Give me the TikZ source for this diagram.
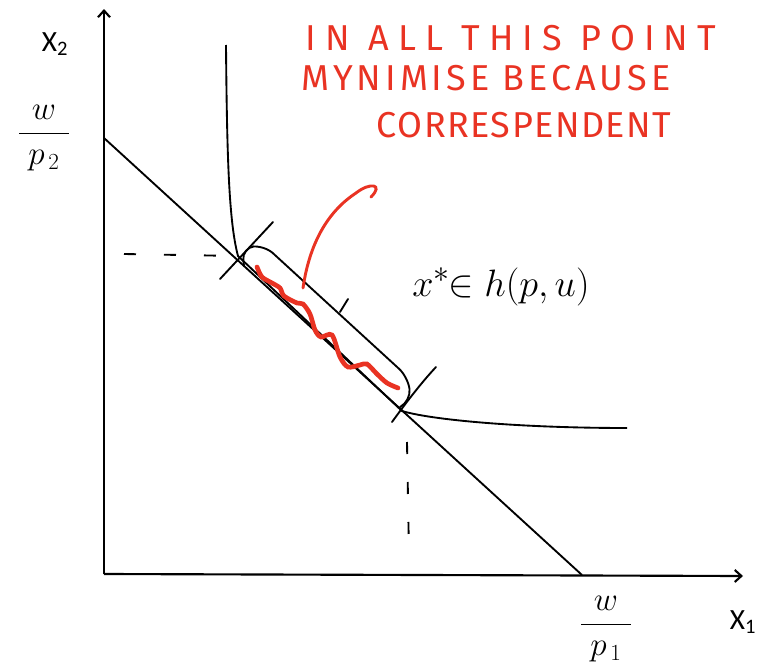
\documentclass[tikz,border=0pt]{standalone}
\usepackage{fontspec}
\newfontfamily\axisfont{Carlito}
\newfontfamily\penfont{Fira Sans}
\usetikzlibrary{arrows.meta}
\definecolor{pen}{RGB}{233,51,35}

\begin{document}
\begin{tikzpicture}[x=0.75pt, y=-0.75pt,
    axis/.style={line width=1.6pt, -{Straight Barb[length=5pt, width=9pt]}},
    curve/.style={line width=1.4pt},
    guide/.style={line width=1.4pt, dash pattern=on 9pt off 21pt},
    scrawl/.style={line width=1.4pt, line cap=round},
    note/.style={text=pen, font=\penfont\fontsize{27}{32}\selectfont, inner sep=0pt}]
  \useasboundingbox (0,0) rectangle (761,671);

  % axes
  \coordinate (O) at (104,574);
  \coordinate (ytop) at (104,9);
  \coordinate (xend) at (743,576);
  \draw[axis] (O) -- (ytop);
  \draw[axis] (O) -- (xend);
  \node[font=\axisfont\fontsize{22}{26}\selectfont] (xtwo) at (55,44) {X\textsubscript{2}};
  \node[font=\axisfont\fontsize{22}{26}\selectfont] (xone) at (743,622) {X\textsubscript{1}};
  \node[font=\fontsize{27}{32}\selectfont] (wptwo) at (44,138) {$\displaystyle\frac{\;w\;}{\;p_{\,2}\;}$};
  \node[font=\fontsize{27}{32}\selectfont] (wpone) at (606,629) {$\displaystyle\frac{\;w\;}{\;p_{\,1}\;}$};

  % budget line and indifference curve
  \coordinate (bl) at (104,138);
  \coordinate (br) at (582,575);
  \draw[curve] (bl) -- (br);
  \coordinate (itop) at (226,45);
  \coordinate (ka) at (238,256);
  \coordinate (kb) at (402,411);
  \coordinate (iend) at (627,428);
  \draw[curve] (itop) .. controls (227,160) and (229,222) .. (ka)
    -- (kb) .. controls (432,420) and (520,428) .. (iend);

  % dashed guides
  \coordinate (ha) at (124,254);
  \coordinate (va) at (407,442);
  \coordinate (vb) at (409,555);
  \draw[guide] (ha) -- (ka);
  \draw[guide] (va) -- (vb);

  \node[font=\fontsize{30}{36}\selectfont, scale=1.15, transform shape] (xstar) at (501,287) {$x^{*}\!\!\in h(p,u)$};

  % marks by hand
  \draw[scrawl] (220,279) -- (273,222);
  \draw[scrawl] (392,422) .. controls (408,400) and (422,382) .. (436,367);
  \draw[scrawl, rounded corners=9pt] (244,266) -- (242,248) -- (264,245)
    -- (408,377) -- (411,401) -- (400,407);
  \draw[scrawl] (340,312) -- (348,299);

  \draw[pen, line width=3.5pt, line cap=round] plot[smooth, tension=0.5] coordinates {
    (257,267) (262,277) (272,283) (280,288) (284,296) (297,303) (303,304) (310,314)
    (315,330) (321,337) (332,335) (340,357) (348,367) (360,365) (367,364) (377,374)
    (387,383) (398,388)};
  \draw[pen, line width=2.2pt, line cap=round] (303,288) .. controls (310,240) and (330,210) .. (356,193)
    .. controls (370,182) and (384,184) .. (371,197);

  \node[note] (lineone) at (511,38) {\addfontfeatures{LetterSpace=25}IN ALL THIS POINT};
  \node[note] (linetwo) at (486,78) {\addfontfeatures{LetterSpace=11}MYNIMISE BECAUSE};
  \node[note] (linethree) at (524,125) {\addfontfeatures{LetterSpace=4}CORRESPENDENT};
\end{tikzpicture}
\end{document}
